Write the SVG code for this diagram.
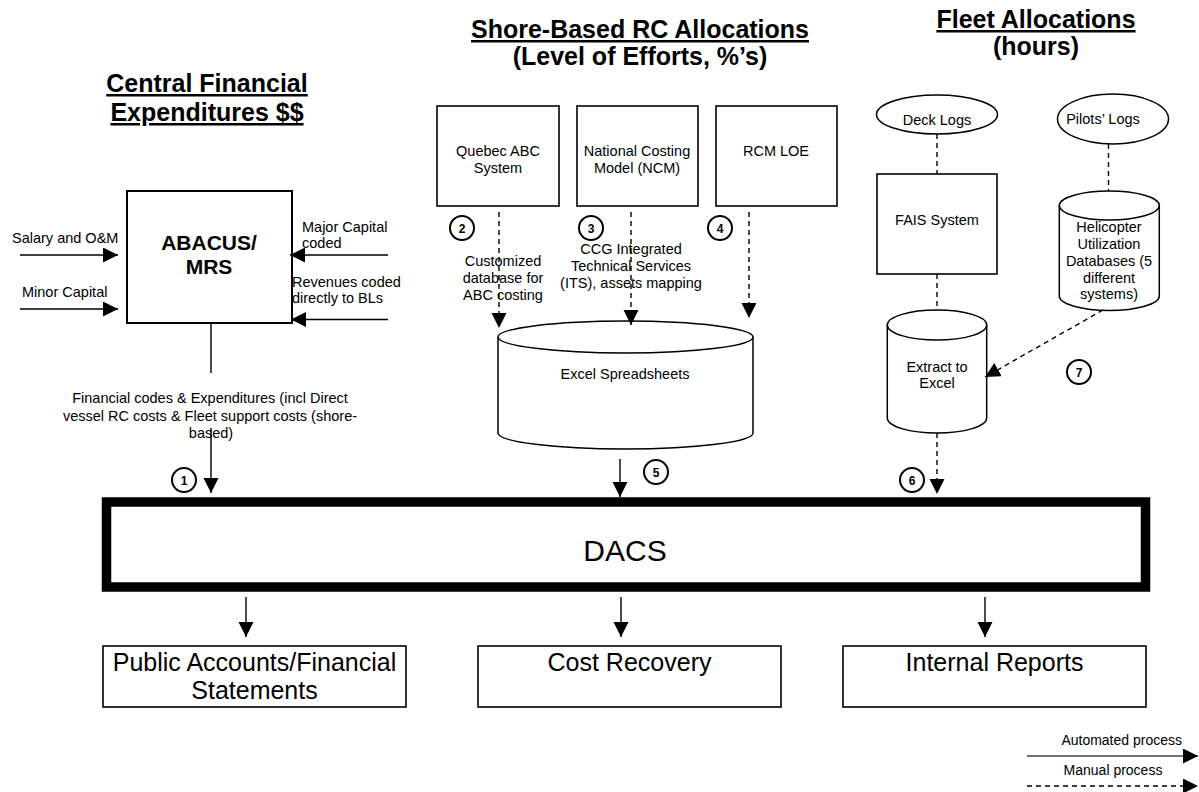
<svg xmlns="http://www.w3.org/2000/svg" width="1199" height="792" viewBox="0 0 1199 792">
<style>
text{font-family:"Liberation Sans",Arial,sans-serif;fill:#000}
.title{font-size:25px;font-weight:bold;text-anchor:middle}
.ul{text-decoration:underline}
.sm{font-size:14.5px}
.c{text-anchor:middle}
.big{font-size:25px;text-anchor:middle}
.box{fill:#fff;stroke:#000;stroke-width:1.6}
.num{fill:#fff;stroke:#000;stroke-width:2}
.numt{font-size:12px;font-weight:bold;text-anchor:middle}
.solid{stroke:#000;stroke-width:1.4;fill:none}
.dash{stroke:#000;stroke-width:1.4;fill:none;stroke-dasharray:5,4}
</style>
<defs>
<marker id="ah" markerUnits="userSpaceOnUse" markerWidth="16" markerHeight="16" refX="15" refY="7.5" orient="auto"><path d="M0,0 L15,7.5 L0,15 z" fill="#000"/></marker>
</defs>

<g id="titles">
<text class="title ul" x="207" y="92">Central Financial</text>
<text class="title ul" x="207" y="121">Expenditures $$</text>
<text class="title ul" x="640" y="38">Shore-Based RC Allocations</text>
<text class="title" x="640" y="65">(Level of Efforts, %’s)</text>
<text class="title ul" x="1036" y="28">Fleet Allocations</text>
<text class="title" x="1036" y="55">(hours)</text>
</g>

<g id="abacus">
<rect x="127" y="191" width="165" height="132" fill="#fff" stroke="#000" stroke-width="2"/>
<text x="209" y="250" font-size="21" font-weight="bold" text-anchor="middle">ABACUS/</text>
<text x="209" y="274" font-size="21" font-weight="bold" text-anchor="middle">MRS</text>
</g>

<g id="quebec">
<rect class="box" x="437" y="106" width="122" height="100"/>
<text class="sm c" x="498" y="156">Quebec ABC</text>
<text class="sm c" x="498" y="173">System</text>
</g>
<g id="ncm">
<rect class="box" x="577" y="106" width="121" height="100"/>
<text class="sm c" x="637" y="156">National Costing</text>
<text class="sm c" x="637" y="173">Model (NCM)</text>
</g>
<g id="rcm">
<rect class="box" x="716" y="106" width="121" height="100"/>
<text class="sm c" x="776" y="156">RCM LOE</text>
</g>

<g id="excel">
<path d="M498,337 V433 A127.5,16 0 0 0 753,433 V337" fill="#fff" stroke="#000" stroke-width="1.5"/>
<ellipse cx="625.5" cy="337" rx="127.5" ry="16" fill="#fff" stroke="#000" stroke-width="1.5"/>
<text class="sm c" x="625" y="379">Excel Spreadsheets</text>
</g>

<g id="decklogs">
<ellipse cx="937" cy="114.5" rx="60.5" ry="19.5" fill="#fff" stroke="#000" stroke-width="1.5"/>
<text class="sm c" x="937" y="125">Deck Logs</text>
</g>
<g id="pilotslogs">
<ellipse cx="1113" cy="119" rx="55.5" ry="25" fill="#fff" stroke="#000" stroke-width="1.5"/>
<text class="sm c" x="1103" y="124">Pilots’ Logs</text>
</g>
<g id="fais">
<rect class="box" x="877" y="174" width="120" height="100"/>
<text class="sm c" x="937" y="225">FAIS System</text>
</g>
<g id="helicopter">
<path d="M1059.3,205.5 V296 A50,14.5 0 0 0 1159.3,296 V205.5" fill="#fff" stroke="#000" stroke-width="1.5"/>
<ellipse cx="1109.3" cy="205.5" rx="50" ry="14.5" fill="#fff" stroke="#000" stroke-width="1.5"/>
<text class="sm c" x="1109" y="232">Helicopter</text>
<text class="sm c" x="1109" y="249">Utilization</text>
<text class="sm c" x="1109" y="266">Databases (5</text>
<text class="sm c" x="1109" y="283">different</text>
<text class="sm c" x="1109" y="299">systems)</text>
</g>
<g id="extract">
<path d="M887.3,325 V418 A49.7,15 0 0 0 986.7,418 V325" fill="#fff" stroke="#000" stroke-width="1.5"/>
<ellipse cx="937" cy="325" rx="49.7" ry="15" fill="#fff" stroke="#000" stroke-width="1.5"/>
<text class="sm c" x="937" y="372">Extract to</text>
<text class="sm c" x="937" y="388">Excel</text>
</g>

<g id="dacs">
<rect x="106.5" y="502" width="1039" height="85" fill="#fff" stroke="#000" stroke-width="9.5"/>
<text x="625" y="561" font-size="30" text-anchor="middle">DACS</text>
</g>

<g id="public">
<rect class="box" x="103" y="646" width="303" height="61"/>
<text class="big" x="254.5" y="671">Public Accounts/Financial</text>
<text class="big" x="254.5" y="699">Statements</text>
</g>
<g id="costrecovery">
<rect class="box" x="478" y="646" width="303" height="61"/>
<text class="big" x="629.5" y="671">Cost Recovery</text>
</g>
<g id="internal">
<rect class="box" x="843" y="646" width="303" height="61"/>
<text class="big" x="994.5" y="671">Internal Reports</text>
</g>

<g id="connectors">
<line class="solid" x1="20" y1="255" x2="118" y2="255" marker-end="url(#ah)"/>
<line class="solid" x1="20" y1="309" x2="118" y2="309" marker-end="url(#ah)"/>
<line class="solid" x1="388" y1="255" x2="290" y2="255" marker-end="url(#ah)"/>
<line class="solid" x1="388" y1="319.5" x2="291" y2="319.5" marker-end="url(#ah)"/>
<line class="solid" x1="211" y1="323" x2="211" y2="373"/>
<line class="solid" x1="211" y1="428" x2="211" y2="493" marker-end="url(#ah)"/>
<line class="dash" x1="499" y1="212" x2="499" y2="328" marker-end="url(#ah)"/>
<line class="dash" x1="631" y1="212" x2="631" y2="325" marker-end="url(#ah)"/>
<line class="dash" x1="749" y1="212" x2="749" y2="318" marker-end="url(#ah)"/>
<line class="solid" x1="620" y1="459" x2="620" y2="497" marker-end="url(#ah)"/>
<line class="dash" x1="937" y1="134" x2="937" y2="174"/>
<line class="dash" x1="937" y1="274" x2="937" y2="310"/>
<line class="dash" x1="1108.5" y1="144" x2="1108.5" y2="191"/>
<line class="dash" x1="1103" y1="310" x2="985" y2="377" marker-end="url(#ah)"/>
<line class="dash" x1="937" y1="433" x2="937" y2="494" marker-end="url(#ah)"/>
<line class="solid" x1="246" y1="597" x2="246" y2="637" marker-end="url(#ah)"/>
<line class="solid" x1="621" y1="597" x2="621" y2="637" marker-end="url(#ah)"/>
<line class="solid" x1="985" y1="597" x2="985" y2="637" marker-end="url(#ah)"/>
<line x1="1027" y1="756" x2="1198" y2="756" stroke="#444" stroke-width="1.5" marker-end="url(#ah)"/>
<line class="dash" x1="1027" y1="786" x2="1198" y2="786" stroke-dasharray="4,3" marker-end="url(#ah)"/>
</g>

<g id="labels">
<text class="sm" x="12" y="243">Salary and O&amp;M</text>
<text class="sm" x="22" y="297">Minor Capital</text>
<text class="sm" x="302" y="232">Major Capital</text>
<text class="sm" x="302" y="248">coded</text>
<text class="sm" x="292" y="287">Revenues coded</text>
<text class="sm" x="292" y="303">directly to BLs</text>
<text class="sm c" x="210" y="403">Financial codes &amp; Expenditures (incl Direct</text>
<text class="sm c" x="210" y="421">vessel RC costs &amp; Fleet support costs (shore-</text>
<text class="sm c" x="211" y="438">based)</text>
<text class="sm c" x="503" y="266">Customized</text>
<text class="sm c" x="503" y="283">database for</text>
<text class="sm c" x="503" y="300">ABC costing</text>
<text class="sm c" x="631" y="254">CCG Integrated</text>
<text class="sm c" x="631" y="271">Technical Services</text>
<text class="sm c" x="631" y="288">(ITS), assets mapping</text>
<text x="1182" y="745" font-size="14" text-anchor="end">Automated process</text>
<text x="1113" y="775" font-size="14" text-anchor="middle">Manual process</text>
</g>

<g id="steps">
<circle class="num" cx="184" cy="480" r="12"/><text class="numt" x="184" y="484.5">1</text>
<circle class="num" cx="462" cy="228" r="12"/><text class="numt" x="462" y="232.5">2</text>
<circle class="num" cx="591" cy="228" r="12"/><text class="numt" x="591" y="232.5">3</text>
<circle class="num" cx="720" cy="228" r="12"/><text class="numt" x="720" y="232.5">4</text>
<circle class="num" cx="656" cy="472" r="12"/><text class="numt" x="656" y="476.5">5</text>
<circle class="num" cx="912" cy="480" r="12"/><text class="numt" x="912" y="484.5">6</text>
<circle class="num" cx="1079" cy="372" r="12"/><text class="numt" x="1079" y="376.5">7</text>
</g>
</svg>
